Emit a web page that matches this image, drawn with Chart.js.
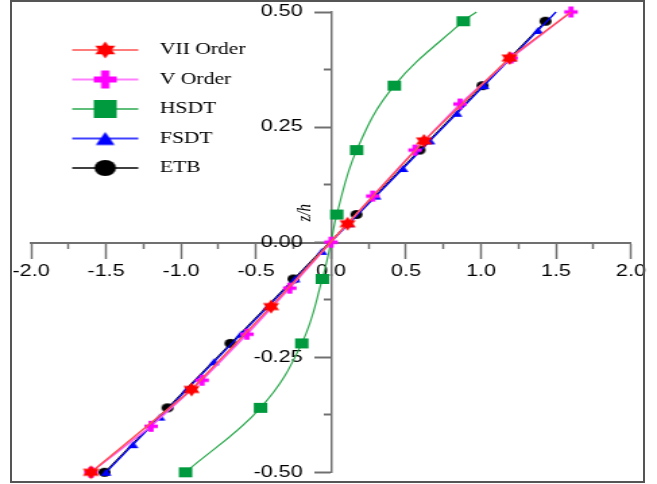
<!DOCTYPE html>
<html>
<head>
<meta charset="utf-8">
<script src="https://cdn.jsdelivr.net/npm/chart.js@4.4.1/dist/chart.umd.min.js"></script>
<style>
  body { margin: 0; background: #fff; }
  #wrap { position: relative; width: 657px; height: 484px; }
  #chart { position: absolute; left: 0; top: 0; }
  #frame { position: absolute; left: 10px; top: 0; width: 635px; height: 483px;
           border: 2px solid #555; box-sizing: border-box; pointer-events: none; }
</style>
</head>
<body>
<div id="wrap">
  <!-- the figure is drawn narrow and widened, like the original which is stretched sideways -->
  <canvas id="chart" width="487" height="484" style="width:657px;height:484px"></canvas>
  <div id="frame"></div>
</div>
<script>
// values (x = normalised stress, z/h = thickness coordinate)
const zVII = [-0.50, -0.32, -0.14, 0.04, 0.22, 0.40, 0.50];
const xVII = [-1.60, -0.93, -0.40, 0.11, 0.62, 1.19, 1.60];

const zV = [-0.5, -0.4, -0.3, -0.2, -0.1, 0, 0.1, 0.2, 0.3, 0.4, 0.5];
const xV = [-1.60, -1.20, -0.86, -0.56, -0.275, 0, 0.278, 0.56, 0.86, 1.20, 1.60];

const zHSDT = [-0.50, -0.36, -0.22, -0.08, 0, 0.06, 0.20, 0.34, 0.48, 0.50];
const xHSDT = [-0.97, -0.47, -0.195, -0.058, 0, 0.038, 0.171, 0.422, 0.882, 0.97];

const zFSDT = [-0.50, -0.44, -0.38, -0.32, -0.26, -0.20, -0.14, -0.08, -0.02,
               0.04, 0.10, 0.16, 0.22, 0.28, 0.34, 0.40, 0.46, 0.50];
const xFSDT = [-1.50, -1.32, -1.14, -0.96, -0.78, -0.60, -0.42, -0.24, -0.06,
               0.12, 0.30, 0.48, 0.66, 0.84, 1.02, 1.20, 1.38, 1.50];

const zETB = [-0.50, -0.36, -0.22, -0.08, 0.06, 0.20, 0.34, 0.48];
const xETB = [-1.51, -1.09, -0.67, -0.25, 0.17, 0.59, 1.01, 1.43];

const xMajor = [-2, -1.5, -1, -0.5, 0, 0.5, 1, 1.5, 2];
const xMinor = [-1.75, -1.25, -0.75, -0.25, 0.25, 0.75, 1.25, 1.75];
const yMajor = [-0.5, -0.25, 0, 0.25, 0.5];
const yMinor = [-0.375, -0.125, 0.125, 0.375];

const series = [
  { label: 'VII Order', x: xVII, z: zVII, bare: [6], line: '#ff5050', lw: 1.5, tension: 0,
    mark: 'star', color: '#ff0000', size: [12, 14], legendSize: [15, 17] },
  { label: 'V Order', x: xV, z: zV, bare: [], line: '#ff55ff', lw: 1.5, tension: 0,
    mark: 'plus', color: '#ff00ff', size: [10, 11], legendSize: [17, 18] },
  { label: 'HSDT', x: xHSDT, z: zHSDT, bare: [4, 9], line: '#2aa84c', lw: 1.2, tension: 0.4,
    mark: 'square', color: '#009a3e', size: [10, 10], legendSize: [17, 18] },
  { label: 'FSDT', x: xFSDT, z: zFSDT, bare: [17], line: '#0000ff', lw: 1.3, tension: 0,
    mark: 'triangle', color: '#0000ff', size: [8, 7], legendSize: [14, 13] },
  { label: 'ETB', x: xETB, z: zETB, bare: [], line: '#000000', lw: 1, tension: 0,
    mark: 'circle', color: '#000000', size: [9, 9], legendSize: [16, 16] }
];

function drawMarker(ctx, kind, cx, cy, w, h, color) {
  ctx.fillStyle = color;
  ctx.beginPath();
  if (kind === 'star') {
    for (let i = 0; i < 12; i++) {
      const r = i % 2 ? h / 2 / Math.sqrt(3) : h / 2;
      const a = -Math.PI / 2 + i * Math.PI / 6;
      ctx.lineTo(cx + r * Math.cos(a), cy + r * Math.sin(a));
    }
    ctx.closePath();
  } else if (kind === 'plus') {
    const t = h * 0.17;
    ctx.rect(cx - w / 2, cy - t, w, 2 * t);
    ctx.rect(cx - t, cy - h / 2, 2 * t, h);
  } else if (kind === 'square') {
    ctx.rect(cx - w / 2, cy - h / 2, w, h);
  } else if (kind === 'triangle') {
    ctx.moveTo(cx, cy - h / 2);
    ctx.lineTo(cx + w / 2, cy + h / 2);
    ctx.lineTo(cx - w / 2, cy + h / 2);
    ctx.closePath();
  } else {
    ctx.ellipse(cx, cy, w / 2, h / 2, 0, 0, Math.PI * 2);
  }
  ctx.fill();
}

function markerCanvas(s) {
  const c = document.createElement('canvas');
  c.width = Math.ceil(s.size[0]) + 4;
  c.height = Math.ceil(s.size[1]) + 4;
  drawMarker(c.getContext('2d'), s.mark, c.width / 2, c.height / 2, s.size[0], s.size[1], s.color);
  return c;
}

// legend icon: short line with the marker on it, plus blank room on the left
function legendIcon(s) {
  const c = document.createElement('canvas');
  c.width = 74;
  c.height = 22;
  const ctx = c.getContext('2d');
  ctx.strokeStyle = s.line;
  ctx.lineWidth = 1.5;
  ctx.beginPath();
  ctx.moveTo(17, 11);
  ctx.lineTo(66, 11);
  ctx.stroke();
  drawMarker(ctx, s.mark, 41.5, 11, s.legendSize[0], s.legendSize[1], s.color);
  return c;
}

const tickFont = { family: '"Liberation Sans", Arial, sans-serif', size: 16 };
const axisGrey = '#707070';

// keep the label overhang from shrinking the plot area
const noOverhang = sc => {
  sc.paddingLeft = 0; sc.paddingRight = 0; sc.paddingTop = 0; sc.paddingBottom = 0;
};

const zhTitle = {
  id: 'zhTitle',
  afterDraw(chart) {
    const { ctx, scales } = chart;
    ctx.save();
    ctx.translate(scales.x.getPixelForValue(0) - 19, scales.y.getPixelForValue(0.064));
    ctx.rotate(-Math.PI / 2);
    ctx.font = 'italic 15px "Liberation Serif", serif';
    ctx.fillStyle = '#000';
    ctx.textAlign = 'center';
    ctx.textBaseline = 'middle';
    ctx.fillText('z/h', 0, 0);
    ctx.restore();
  }
};

const ctx = document.getElementById('chart').getContext('2d');
new Chart(ctx, {
  type: 'scatter',
  data: {
    datasets: series.map(s => ({
      label: s.label,
      data: s.x.map((v, i) => ({ x: v, y: s.z[i] })),
      showLine: true,
      borderColor: s.line,
      borderWidth: s.lw,
      tension: s.tension,
      pointStyle: markerCanvas(s),
      pointRadius: c => s.bare.includes(c.dataIndex) ? 0 : 5,
      clip: false
    }))
  },
  options: {
    responsive: false,
    animation: false,
    events: [],
    layout: { padding: { left: 23, right: 19.3, top: 12, bottom: 11.7 } },
    scales: {
      x: {
        type: 'linear', min: -2, max: 2, position: 'center',
        border: { color: axisGrey, width: 2 },
        grid: { drawOnChartArea: false, tickLength: 15, tickWidth: 1.5, tickColor: axisGrey },
        ticks: { font: tickFont, color: '#000', padding: 5, maxRotation: 0, autoSkip: false,
                 callback: v => v.toFixed(1) },
        afterBuildTicks: sc => { sc.ticks = xMajor.map(v => ({ value: v })); },
        afterFit: noOverhang
      },
      xm: {
        axis: 'x', type: 'linear', min: -2, max: 2, position: 'center',
        border: { display: false },
        grid: { drawOnChartArea: false, tickLength: 6, tickWidth: 1.5, tickColor: axisGrey },
        ticks: { display: false },
        afterBuildTicks: sc => { sc.ticks = xMinor.map(v => ({ value: v })); },
        afterFit: noOverhang
      },
      y: {
        type: 'linear', min: -0.5, max: 0.5, position: 'center',
        border: { color: axisGrey, width: 1.5 },
        grid: { drawOnChartArea: false, tickLength: 12, tickWidth: 2, tickColor: axisGrey },
        ticks: { font: tickFont, color: '#000', padding: 9, autoSkip: false,
                 callback: v => v.toFixed(2) },
        afterBuildTicks: sc => { sc.ticks = yMajor.map(v => ({ value: v })); },
        afterFit: noOverhang
      },
      ym: {
        axis: 'y', type: 'linear', min: -0.5, max: 0.5, position: 'center',
        border: { display: false },
        grid: { drawOnChartArea: false, tickLength: 5, tickWidth: 2, tickColor: axisGrey },
        ticks: { display: false },
        afterBuildTicks: sc => { sc.ticks = yMinor.map(v => ({ value: v })); },
        afterFit: noOverhang
      }
    },
    plugins: {
      tooltip: { enabled: false },
      legend: {
        position: 'chartArea',
        align: 'start',
        title: { display: true, text: '', font: { size: 10, lineHeight: 1.55 }, padding: { top: 13, bottom: 0 } },
        labels: {
          usePointStyle: true,
          pointStyleWidth: 74,
          padding: 13.5,
          color: '#000',
          font: { family: '"Liberation Serif", "Times New Roman", serif', size: 16 },
          generateLabels: () => series.map((s, i) => ({
            text: s.label,
            pointStyle: legendIcon(s),
            fillStyle: s.color,
            strokeStyle: s.color,
            lineWidth: 0,
            fontColor: '#000',
            hidden: false,
            datasetIndex: i
          }))
        }
      }
    }
  },
  plugins: [zhTitle]
});
</script>
</body>
</html>
